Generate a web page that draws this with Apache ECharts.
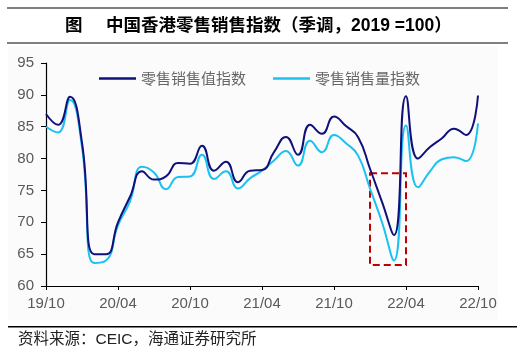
<!DOCTYPE html>
<html>
<head>
<meta charset="utf-8">
<script src="https://cdn.jsdelivr.net/npm/echarts@6/dist/echarts.min.js"></script>
<style>
  html, body { margin: 0; padding: 0; background: #fff; }
  #chartRetail { width: 529px; height: 354px; }
</style>
</head>
<body>
<div id="chartRetail"></div>
<script>
  // 月份 19/10 ~ 22/10
  var months = ['19/10','19/11','19/12','20/01','20/02','20/03','20/04','20/05','20/06','20/07','20/08','20/09',
    '20/10','20/11','20/12','21/01','21/02','21/03','21/04','21/05','21/06','21/07','21/08','21/09',
    '21/10','21/11','21/12','22/01','22/02','22/03','22/04','22/05','22/06','22/07','22/08','22/09','22/10'];
  // 零售销售值指数
  var valueIndex = [87.0, 85.3, 89.7, 82.5, 65.0, 65.0, 70.0, 74.0, 78.0, 76.7, 77.2, 79.3,
    79.2, 82.0, 78.1, 79.5, 76.3, 78.1, 78.2, 81.0, 83.4, 80.6, 85.3, 83.9,
    86.6, 85.1, 83.4, 78.4, 73.2, 68.0, 89.8, 80.0, 81.8, 83.2, 84.7, 83.7, 89.9];
  // 零售销售量指数
  var volumeIndex = [85.0, 84.1, 89.2, 81.8, 63.6, 64.0, 69.5, 73.3, 78.7, 77.8, 75.2, 77.1,
    77.2, 80.6, 76.8, 78.0, 75.3, 76.9, 78.1, 79.7, 81.2, 78.9, 82.8, 81.0,
    83.7, 82.4, 80.5, 75.3, 70.0, 64.0, 85.2, 75.5, 78.0, 79.9, 80.2, 79.6, 85.5];
  // 红框：22/01 ~ 22/04
  var boxFrom = [27, 77.7];
  var boxTo = [30, 63.3];

  var cjk = "'Liberation Sans','Noto Sans CJK SC'";
  var chart = echarts.init(document.getElementById('chartRetail'));

  chart.setOption({
    animation: false,
    backgroundColor: '#fff',
    graphic: [
      { type: 'rect', shape: { x: 7, y: 7, width: 501, height: 2 }, style: { fill: '#808080' } },
      { type: 'rect', shape: { x: 7, y: 42, width: 501, height: 2 }, style: { fill: '#808080' } },
      { type: 'rect', z: -10, shape: { x: 8, y: 46, width: 490, height: 274 }, style: { fill: '#fbfbfb' } },
      { type: 'rect', shape: { x: 8, y: 326, width: 509, height: 1.5 }, style: { fill: '#000' } },
      { type: 'text', left: 65, top: 17, style: { text: '图', font: 'bold 17.5px ' + cjk, fill: '#000' } },
      { type: 'text', left: 106, top: 17, style: { text: '中国香港零售销售指数（季调，2019 =100）', font: 'bold 17.5px ' + cjk, fill: '#000' } },
      { type: 'text', left: 18, top: 332, style: { text: '资料来源：CEIC，海通证券研究所', font: '15.5px ' + cjk, fill: '#222' } }
    ],
    legend: {
      left: 94,
      top: 66,
      icon: 'rect',
      itemWidth: 37,
      itemHeight: 2.5,
      itemGap: 27,
      textStyle: { fontFamily: 'Noto Sans CJK SC', fontSize: 15, color: '#666' },
      data: ['零售销售值指数', '零售销售量指数']
    },
    grid: { left: 46, right: 51, top: 63, bottom: 68 },
    xAxis: {
      type: 'category',
      boundaryGap: false,
      data: months,
      axisLine: { lineStyle: { color: '#000', width: 1.2 } },
      axisTick: { interval: 5, length: 4, lineStyle: { color: '#000' } },
      axisLabel: { interval: 5, margin: 10, fontSize: 15, color: '#595959', fontFamily: 'Liberation Sans' },
      splitLine: { show: false }
    },
    yAxis: {
      type: 'value',
      min: 60,
      max: 95,
      interval: 5,
      axisLine: { show: true, lineStyle: { color: '#000', width: 1.2 } },
      axisTick: { show: true, length: 5, lineStyle: { color: '#000' } },
      axisLabel: { margin: 12, fontSize: 15, color: '#595959', fontFamily: 'Liberation Sans' },
      splitLine: { show: false }
    },
    series: [
      {
        name: '零售销售值指数',
        type: 'line',
        smooth: true,
        symbol: 'none',
        data: valueIndex,
        lineStyle: { color: '#10107a', width: 2 },
        itemStyle: { color: '#10107a' },
        z: 3
      },
      {
        name: '零售销售量指数',
        type: 'line',
        smooth: true,
        symbol: 'none',
        data: volumeIndex,
        lineStyle: { color: '#1ac2f2', width: 2 },
        itemStyle: { color: '#1ac2f2' },
        z: 2,
        markArea: {
          silent: true,
          itemStyle: { color: 'rgba(0,0,0,0)', borderColor: '#c00000', borderWidth: 2, borderType: [7, 4] },
          data: [[{ coord: boxFrom }, { coord: boxTo }]]
        }
      }
    ]
  });
</script>
</body>
</html>
